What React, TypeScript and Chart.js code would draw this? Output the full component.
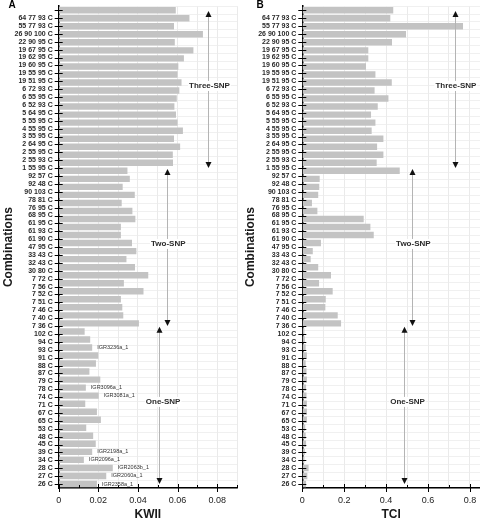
import React, { useEffect, useRef } from 'react';
import { Chart, registerables } from 'chart.js';
Chart.register(...registerables);

const categories = [
  '64 77 93 C', '55 77 93 C', '26 90 100 C', '22 90 95 C', '19 67 95 C', '19 62 95 C', '19 60 95 C', '19 55 95 C', '19 51 95 C', '6 72 93 C',
  '6 55 95 C', '6 52 93 C', '5 64 95 C', '5 55 95 C', '4 55 95 C', '3 55 95 C', '2 64 95 C', '2 55 95 C', '2 55 93 C', '1 55 95 C',
  '92 57 C', '92 48 C', '90 103 C', '78 81 C', '76 95 C', '68 95 C', '61 95 C', '61 93 C', '61 90 C', '47 95 C',
  '33 43 C', '32 43 C', '30 80 C', '7 72 C', '7 56 C', '7 52 C', '7 51 C', '7 46 C', '7 40 C', '7 36 C',
  '102 C', '94 C', '93 C', '91 C', '88 C', '87 C', '79 C', '78 C', '74 C', '71 C',
  '67 C', '65 C', '53 C', '48 C', '45 C', '39 C', '34 C', '28 C', '27 C', '26 C',
];

const kwiiValues = [
  0.0591, 0.0660, 0.0582, 0.0728, 0.0586, 0.0680, 0.0632, 0.0604, 0.0600, 0.0620,
  0.0609, 0.0596, 0.0584, 0.0592, 0.0600, 0.0627, 0.0582, 0.0613, 0.0576, 0.0577,
  0.0347, 0.0359, 0.0323, 0.0384, 0.0318, 0.0372, 0.0387, 0.0314, 0.0314, 0.0370,
  0.0392, 0.0342, 0.0385, 0.0452, 0.0329, 0.0428, 0.0314, 0.0321, 0.0326, 0.0405,
  0.0131, 0.0159, 0.0169, 0.0200, 0.0188, 0.0155, 0.0210, 0.0137, 0.0202, 0.0134,
  0.0193, 0.0213, 0.0139, 0.0174, 0.0187, 0.0169, 0.0127, 0.0273, 0.0240, 0.0193,
];

const tciValues = [
  0.434, 0.420, 0.767, 0.495, 0.428, 0.315, 0.315, 0.304, 0.349, 0.427,
  0.345, 0.411, 0.360, 0.328, 0.349, 0.331, 0.387, 0.357, 0.387, 0.355,
  0.465, 0.083, 0.081, 0.076, 0.046, 0.072, 0.293, 0.325, 0.341, 0.089,
  0.050, 0.040, 0.076, 0.137, 0.080, 0.145, 0.112, 0.110, 0.169, 0.185,
  0.010, 0.012, 0.016, 0.022, 0.016, 0.020, 0.022, 0.018, 0.020, 0.022,
  0.022, 0.022, 0.014, 0.016, 0.018, 0.012, 0.010, 0.030, 0.024, 0.018,
];

const groupNames = ['Three-SNP', 'Two-SNP', 'One-SNP'];
const groupStarts = [0, 20, 40];
const groupEnds = [20, 40, 60];

const igrCategories = ['93 C', '78 C', '74 C', '39 C', '34 C', '28 C', '27 C', '26 C'];
const igrNames = ['IGR3236a_1', 'IGR3096a_1', 'IGR3081a_1', 'IGR2198a_1', 'IGR2096a_1', 'IGR2063b_1', 'IGR2060a_1', 'IGR2358a_1'];

const kwiiArrowX = [0.0756, 0.0547, 0.0505];
const kwiiLabelX = [0.0761, 0.0553, 0.0527];
const tciArrowX = [0.729, 0.525, 0.487];
const tciLabelX = [0.733, 0.530, 0.502];

const FONT = "'Liberation Sans', Arial, sans-serif";
const BAR_COLOR = '#c3c3c3';
const TEXT = '#1a1a1a';

type PanelOpts = {
  letter: string;
  letterX: number;
  values: number[];
  xTitle: string;
  xMax: number;
  step: number;
  yWidth: number;
  yTitlePad: number;
  arrowX: number[];
  labelX: number[];
  igr: boolean;
};

function makeConfig(o: PanelOpts): any {
  const isMajor = (v: number) => Math.round(v / o.step) % 2 === 0;
  const fmt = (v: number) => {
    if (Math.abs(v) < 1e-9) return '0';
    const dec = o.step < 0.05 ? 2 : 1;
    return v.toFixed(dec);
  };
  const overlay = {
    id: 'overlay' + o.letter,
    afterDraw(chart: any) {
      const ctx = chart.ctx;
      const xs = chart.scales.x;
      const yl = chart.scales.yl;
      const area = chart.chartArea;
      ctx.save();
      ctx.strokeStyle = '#000';
      ctx.lineWidth = 1;
      xs.ticks.forEach((t: any) => {
        const px = Math.round(xs.getPixelForValue(t.value)) + 0.5;
        ctx.beginPath();
        if (isMajor(t.value)) {
          ctx.moveTo(px, area.bottom - 4);
          ctx.lineTo(px, area.bottom + 4);
        } else {
          ctx.moveTo(px, area.bottom - 3);
          ctx.lineTo(px, area.bottom);
        }
        ctx.stroke();
      });
      yl.ticks.forEach((t: any) => {
        const py = Math.round(yl.getPixelForValue(t.value)) + 0.5;
        ctx.beginPath();
        ctx.moveTo(area.left - 4, py);
        ctx.lineTo(area.left + 4, py);
        ctx.stroke();
      });
      for (let g = 0; g < groupNames.length; g++) {
        const x = Math.round(xs.getPixelForValue(o.arrowX[g])) + 0.5;
        const y1 = yl.getPixelForValue(groupStarts[g] + 0.1);
        const y2 = yl.getPixelForValue(groupEnds[g]);
        ctx.strokeStyle = '#b4b4b4';
        ctx.lineWidth = 1;
        ctx.beginPath();
        ctx.moveTo(x, y1 + 4);
        ctx.lineTo(x, y2 - 4);
        ctx.stroke();
        ctx.fillStyle = '#111';
        ctx.beginPath();
        ctx.moveTo(x, y1);
        ctx.lineTo(x - 3, y1 + 6);
        ctx.lineTo(x + 3, y1 + 6);
        ctx.closePath();
        ctx.fill();
        ctx.beginPath();
        ctx.moveTo(x, y2);
        ctx.lineTo(x - 3, y2 - 6);
        ctx.lineTo(x + 3, y2 - 6);
        ctx.closePath();
        ctx.fill();
        const ly = yl.getPixelForValue((groupStarts[g] + groupEnds[g]) / 2 - 0.4);
        const lx = xs.getPixelForValue(o.labelX[g]);
        ctx.font = `bold 8px ${FONT}`;
        const w = ctx.measureText(groupNames[g]).width;
        ctx.fillStyle = '#fff';
        ctx.fillRect(lx - w / 2 - 1, ly - 5, w + 2, 10);
        ctx.fillStyle = '#2a2a2a';
        ctx.textAlign = 'center';
        ctx.textBaseline = 'middle';
        ctx.fillText(groupNames[g], lx, ly);
      }
      if (o.igr) {
        const meta = chart.getDatasetMeta(0);
        ctx.font = `5.5px ${FONT}`;
        ctx.fillStyle = '#333';
        ctx.textAlign = 'left';
        ctx.textBaseline = 'middle';
        igrCategories.forEach((c, i) => {
          const idx = categories.indexOf(c);
          const bar = meta.data[idx];
          if (bar) ctx.fillText(igrNames[i], bar.x + 5, bar.y);
        });
      }
      ctx.font = `bold 10px ${FONT}`;
      ctx.fillStyle = '#000';
      ctx.textAlign = 'left';
      ctx.textBaseline = 'alphabetic';
      ctx.fillText(o.letter, o.letterX, 8);
      ctx.restore();
    },
  };

  return {
    type: 'bar',
    data: {
      labels: categories,
      datasets: [
        {
          data: o.values,
          backgroundColor: BAR_COLOR,
          borderWidth: 0,
          barPercentage: 0.8,
          categoryPercentage: 1,
          xAxisID: 'x',
          yAxisID: 'y',
        },
      ],
    },
    options: {
      indexAxis: 'y',
      responsive: false,
      animation: false,
      devicePixelRatio: 1,
      layout: { padding: { top: 4, right: 0, left: 0, bottom: 0 } },
      plugins: { legend: { display: false }, tooltip: { enabled: false } },
      scales: {
        x: {
          type: 'linear',
          position: 'bottom',
          min: 0,
          max: o.xMax,
          grid: { color: '#e4e4e4', lineWidth: 0.8, tickColor: 'rgba(0,0,0,0)', tickLength: 4 },
          border: { color: '#000', width: 1.5 },
          ticks: {
            stepSize: o.step,
            includeBounds: false,
            autoSkip: false,
            maxRotation: 0,
            padding: 3,
            color: '#222',
            font: { family: FONT, size: 9 },
            callback: (v: any) => (isMajor(Number(v)) ? fmt(Number(v)) : ''),
          },
          title: {
            display: true,
            text: o.xTitle,
            color: TEXT,
            font: { family: FONT, size: 12, weight: 'bold' },
            padding: { top: 0, bottom: 0 },
          },
          afterFit: (s: any) => {
            s.height = 34;
          },
        },
        y: {
          type: 'category',
          display: false,
          offset: true,
        },
        yl: {
          type: 'linear',
          position: 'left',
          reverse: true,
          min: 0,
          max: categories.length,
          grid: { color: '#ececec', lineWidth: 0.8, tickColor: 'rgba(0,0,0,0)', tickLength: 4 },
          border: { color: '#000', width: 1.5 },
          ticks: {
            stepSize: 1,
            autoSkip: false,
            includeBounds: false,
            padding: 2,
            color: '#2a2a2a',
            font: { family: FONT, size: 7, weight: 'bold' },
            callback: (v: any) => {
              const n = Math.round(Number(v));
              return n >= 1 ? categories[n - 1] : '';
            },
          },
          title: {
            display: true,
            text: 'Combinations',
            color: TEXT,
            font: { family: FONT, size: 12, weight: 'bold' },
            padding: { top: o.yTitlePad, bottom: 0 },
          },
          afterFit: (s: any) => {
            s.width = o.yWidth;
          },
        },
      },
    },
    plugins: [overlay],
  };
}

function Panel(props: { opts: PanelOpts }) {
  const ref = useRef<HTMLCanvasElement | null>(null);
  useEffect(() => {
    if (!ref.current) return;
    const chart = new Chart(ref.current, makeConfig(props.opts));
    return () => chart.destroy();
  }, []);
  return <canvas ref={ref} width={240} height={522} style={{ display: 'block', width: 240, height: 522 }} />;
}

export default function App() {
  const a: PanelOpts = {
    letter: 'A',
    letterX: 8.5,
    values: kwiiValues,
    xTitle: 'KWII',
    xMax: 0.09,
    step: 0.01,
    yWidth: 58.7,
    yTitlePad: 1,
    arrowX: kwiiArrowX,
    labelX: kwiiLabelX,
    igr: true,
  };
  const b: PanelOpts = {
    letter: 'B',
    letterX: 16.5,
    values: tciValues,
    xTitle: 'TCI',
    xMax: 0.848,
    step: 0.1,
    yWidth: 62.3,
    yTitlePad: 3,
    arrowX: tciArrowX,
    labelX: tciLabelX,
    igr: false,
  };
  return (
    <div style={{ position: 'absolute', left: 0, top: 0, width: 480, height: 522, display: 'flex', background: '#fff' }}>
      <Panel opts={a} />
      <Panel opts={b} />
    </div>
  );
}
